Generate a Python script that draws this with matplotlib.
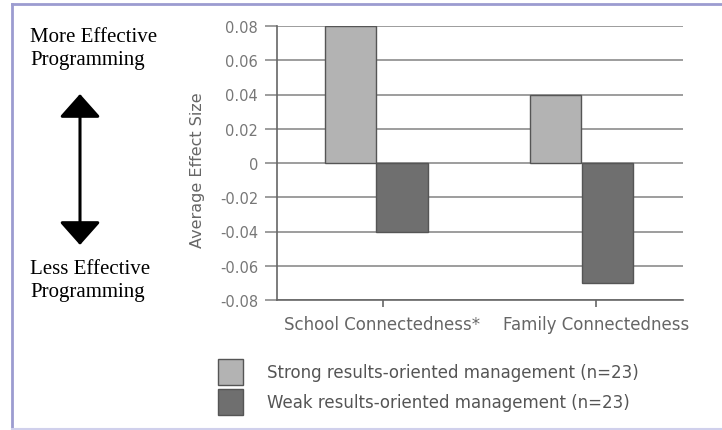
import matplotlib.pyplot as plt
from matplotlib.lines import Line2D
from matplotlib.patches import Rectangle, FancyArrowPatch

categories = ['School Connectedness*', 'Family Connectedness']
strong = [0.08, 0.04]
weak = [-0.04, -0.07]
series_names = ['Strong results-oriented management (n=23)',
                'Weak results-oriented management (n=23)']
yticks = [0.08, 0.06, 0.04, 0.02, 0, -0.02, -0.04, -0.06, -0.08]
ytick_labels = ['0.08', '0.06', '0.04', '0.02', '0', '-0.02', '-0.04', '-0.06', '-0.08']

W, H = 722, 431
fig = plt.figure(figsize=(W / 100, H / 100), dpi=100)

# axes: x 277..683 px, y 27..301 px
ax = fig.add_axes([277 / W, 1 - 301 / H, (683 - 277) / W, (301 - 27) / H])

light = '#b3b3b3'
dark = '#6f6f6f'
edge = '#555555'
bw = 0.256
xs = [0.49, 1.5]
ax.bar([x - bw / 2 for x in xs], strong, bw, color=light, edgecolor=edge, linewidth=1, zorder=3)
ax.bar([x + bw / 2 for x in xs], weak, bw, color=dark, edgecolor=edge, linewidth=1, zorder=3)

ax.set_xlim(0, 2)
ax.set_ylim(-0.08, 0.08)
ax.set_yticks(yticks)
ax.set_yticklabels(ytick_labels)
ax.yaxis.grid(True, color='#8c8c8c', linewidth=1.2, zorder=0)
for sp in ['top', 'right']:
    ax.spines[sp].set_visible(False)
for sp in ['left', 'bottom']:
    ax.spines[sp].set_color('#666666')
    ax.spines[sp].set_linewidth(1.2)
ax.tick_params(axis='y', length=8.6, width=1.2, color='#8c8c8c', labelcolor='#777777',
               labelsize=10.5, pad=5)
ax.set_xticks([0.52, 1.57])
ax.set_xticklabels(categories)
ax.tick_params(axis='x', length=5, width=1.2, color='#666666', labelcolor='#666666',
               labelsize=12, pad=6)
ax.set_ylabel('Average Effect Size', color='#666666', fontsize=11.5)
ax.yaxis.set_label_coords(-0.177, 0.478)

# left-side annotation
serif = 'Liberation Serif'
fig.text(30 / W, 1 - 28 / H, 'More Effective\nProgramming', family=serif, fontsize=15,
         va='top', ha='left', linespacing=1.3)
fig.text(30 / W, 1 - 260 / H, 'Less Effective\nProgramming', family=serif, fontsize=15,
         va='top', ha='left', linespacing=1.3)
arr = FancyArrowPatch((80 / W, 1 - 95 / H), (80 / W, 1 - 246 / H), transform=fig.transFigure,
                      arrowstyle='<|-|>,head_length=9,head_width=8', color='black',
                      linewidth=2.2, mutation_scale=1.6, shrinkA=0, shrinkB=0)
fig.patches.append(arr)

# legend
for i, (c, name) in enumerate(zip([light, dark], series_names)):
    y0 = 360 + i * 30
    fig.patches.append(Rectangle((218 / W, 1 - (y0 + 26) / H), 25 / W, 26 / H,
                                 transform=fig.transFigure, facecolor=c, edgecolor=edge,
                                 linewidth=1))
    fig.text(267 / W, 1 - (y0 + 13) / H, name, fontsize=12, color='#555555',
             va='center', ha='left')

# frame around the figure
frame = '#9c9cd0'
fig.add_artist(Line2D([12 / W, 12 / W], [0, 1 - 5 / H], color=frame, linewidth=2))
fig.add_artist(Line2D([12 / W, 1], [1 - 5 / H, 1 - 5 / H], color=frame, linewidth=2))
fig.add_artist(Line2D([12 / W, 1], [1 - 430 / H, 1 - 430 / H], color='#d0d0ec', linewidth=1.5))

fig.savefig('out.png', dpi=100)
